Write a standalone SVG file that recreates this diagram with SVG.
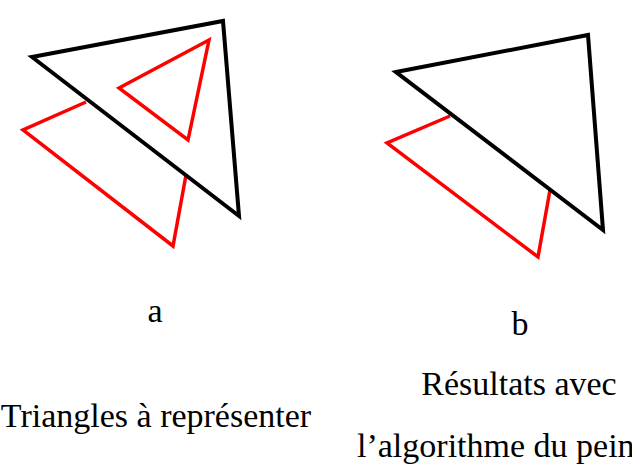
<svg xmlns="http://www.w3.org/2000/svg" width="632" height="472" viewBox="0 0 632 472">
<style>
.blk{fill:none;stroke:#000;stroke-width:4;stroke-linejoin:miter}
.red{fill:none;stroke:#f00;stroke-width:3.5;stroke-linejoin:miter}
.lbl{font-family:"Liberation Serif","DejaVu Serif",serif;font-size:34px;fill:#000}
</style>
<rect width="632" height="472" fill="#fff"/>
<g id="diagram-a">
<polyline class="red" points="86,102 23,130 173,246 186,175"/>
<polygon class="red" points="119,88 209,40 188,140"/>
<polygon class="blk" points="32,57 223,21 239,216"/>
</g>
<g id="diagram-b">
<polyline class="red" points="450,116 387,143 538,257 550,190"/>
<polygon class="blk" points="396,72 588,35 603,230"/>
</g>
<g id="labels">
<text class="lbl" x="155" y="322" text-anchor="middle">a</text>
<text class="lbl" x="520" y="335" text-anchor="middle">b</text>
<text class="lbl" x="519" y="395" text-anchor="middle">Résultats avec</text>
<text class="lbl" x="156" y="427" text-anchor="middle">Triangles à représenter</text>
<text class="lbl" x="357" y="457">l’algorithme du peintre</text>
</g>
</svg>
